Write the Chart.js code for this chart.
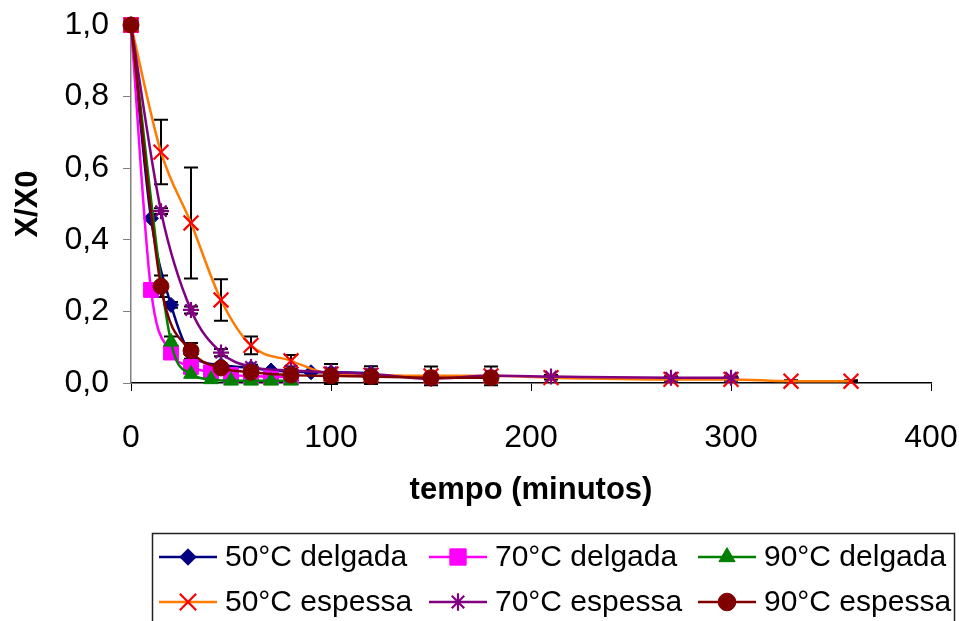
<!DOCTYPE html>
<html>
<head>
<meta charset="utf-8">
<script src="https://cdn.jsdelivr.net/npm/chart.js@4/dist/chart.umd.min.js"></script>
<style>
html,body{margin:0;padding:0;background:#fff;}
#wrap{width:959px;height:621px;position:relative;}
</style>
</head>
<body>
<div id="wrap"><canvas id="c" width="959" height="621"></canvas></div>
<script>
// ---- data ----
const xTickLabels = ['0','100','200','300','400'];
const yTickLabels = ['0,0','0,2','0,4','0,6','0,8','1,0'];

const labels = ['50°C delgada','70°C delgada','90°C delgada','50°C espessa','70°C espessa','90°C espessa'];

const t50d = [0,10,20,30,45,60,70,90,100,120];
const v50d = [1,0.46,0.218,0.08,0.05,0.042,0.035,0.03,0.03,0.028];
const e50d = [0,0,0.008,0,0,0,0,0,0,0];

const t70d = [0,10,20,30,40,50,60,70,80];
const v70d = [1,0.26,0.085,0.045,0.03,0.022,0.02,0.017,0.017];
const e70d = [0,0,0,0,0,0,0,0,0];

const t90d = [0,20,30,40,50,60,70,80];
const v90d = [1,0.115,0.025,0.01,0.006,0.006,0.006,0.006];
const e90d = [0,0.015,0,0,0,0,0,0];

const t50e = [0,15,30,45,60,80,100,120,150,180,210,270,300,330,360];
const v50e = [1,0.645,0.447,0.232,0.105,0.062,0.025,0.022,0.02,0.02,0.015,0.01,0.01,0.005,0.005];
const e50e = [0,0.09,0.155,0.058,0.025,0.016,0.028,0.025,0.026,0.026,0.005,0.004,0.004,0.003,0.003];

const t70e = [0,15,30,45,60,80,100,120,150,180,210,270,300];
const v70e = [1,0.48,0.204,0.085,0.045,0.035,0.03,0.025,0.012,0.02,0.018,0.015,0.015];
const e70e = [0,0.008,0.01,0.01,0.006,0.004,0,0,0,0,0.004,0.004,0.004];

const t90e = [0,15,30,45,60,80,100,120,150,180];
const v90e = [1,0.27,0.09,0.042,0.03,0.022,0.02,0.018,0.015,0.015];
const e90e = [0,0.03,0.022,0.01,0.005,0,0,0,0,0];

function pts(t, v){ return t.map((x,i)=>({x:x, y:v[i]})); }

const FONT = '"Liberation Sans", Arial, sans-serif';

const datasets = [
  {label:labels[0], data:pts(t50d,v50d), err:e50d, borderColor:'#000080', pointBackgroundColor:'#000080', pointBorderColor:'#000080', pointStyle:'rectRot', pointRadius:7.5, pointBorderWidth:1, order:6},
  {label:labels[1], data:pts(t70d,v70d), err:e70d, borderColor:'#FF00FF', pointBackgroundColor:'#FF00FF', pointBorderColor:'#FF00FF', pointStyle:'rect', pointRadius:10.5, pointBorderWidth:1, order:5},
  {label:labels[2], data:pts(t90d,v90d), err:e90d, borderColor:'#008000', pointBackgroundColor:'#008000', pointBorderColor:'#008000', pointStyle:'triangle', pointRadius:8.5, pointBorderWidth:1, order:4},
  {label:labels[3], data:pts(t50e,v50e), err:e50e, borderColor:'#FF7A00', pointBackgroundColor:'#FF0000', pointBorderColor:'#FF0000', pointStyle:'crossRot', pointRadius:10.5, pointBorderWidth:2.2, order:3},
  {label:labels[4], data:pts(t70e,v70e), err:e70e, borderColor:'#800080', pointBackgroundColor:'#800080', pointBorderColor:'#800080', pointStyle:'star', pointRadius:8, pointBorderWidth:2.2, order:2},
  {label:labels[5], data:pts(t90e,v90e), err:e90e, borderColor:'#800000', pointBackgroundColor:'#800000', pointBorderColor:'#800000', pointStyle:'circle', pointRadius:8, pointBorderWidth:1, order:1}
];
datasets.forEach(d=>{ d.borderWidth=2.5; d.cubicInterpolationMode='monotone'; d.fill=false; d.clip=false; d.showLine=true; });

const errorBars = {
  id:'errorBars',
  beforeDatasetsDraw(chart){
    const ctx = chart.ctx, xs = chart.scales.x, ys = chart.scales.y;
    ctx.save();
    ctx.strokeStyle = '#000'; ctx.lineWidth = 2;
    chart.data.datasets.forEach(ds=>{
      ds.data.forEach((p,i)=>{
        const e = ds.err[i];
        if(!e) return;
        const x = xs.getPixelForValue(p.x);
        const y1 = ys.getPixelForValue(p.y + e), y2 = ys.getPixelForValue(p.y - e);
        ctx.beginPath();
        ctx.moveTo(x, y1); ctx.lineTo(x, y2);
        ctx.moveTo(x-7, y1); ctx.lineTo(x+7, y1);
        ctx.moveTo(x-7, y2); ctx.lineTo(x+7, y2);
        ctx.stroke();
      });
    });
    ctx.restore();
  }
};

const boxLegend = {
  id:'boxLegend',
  afterDraw(chart){
    const ctx = chart.ctx;
    ctx.save();
    ctx.strokeStyle = '#222'; ctx.lineWidth = 1.5;
    ctx.strokeRect(152.5, 533.5, 802, 100);
    const colX = [159, 429, 698];
    const rowY = [557, 602];
    chart.data.datasets.forEach((ds,i)=>{
      const x0 = colX[i%3], y = rowY[Math.floor(i/3)];
      ctx.strokeStyle = ds.borderColor; ctx.lineWidth = 2.5;
      ctx.beginPath(); ctx.moveTo(x0, y); ctx.lineTo(x0+58, y); ctx.stroke();
      ctx.fillStyle = ds.pointBackgroundColor; ctx.strokeStyle = ds.pointBorderColor; ctx.lineWidth = ds.pointBorderWidth;
      Chart.helpers.drawPoint(ctx, {pointStyle:ds.pointStyle, radius:ds.pointRadius*1.1, rotation:0, borderWidth:ds.pointBorderWidth}, x0+29, y);
      ctx.fillStyle = '#000';
      ctx.font = '30px ' + FONT;
      ctx.textBaseline = 'middle'; ctx.textAlign = 'left';
      ctx.fillText(ds.label, x0+66, y+1);
    });
    ctx.restore();
  }
};

new Chart(document.getElementById('c'), {
  type:'line',
  data:{datasets:datasets},
  plugins:[errorBars, boxLegend],
  options:{
    responsive:false,
    animation:false,
    events:[],
    layout:{padding:{left:0, right:28, top:25, bottom:108}},
    plugins:{legend:{display:false}, tooltip:{enabled:false}},
    scales:{
      x:{
        type:'linear', min:0, max:400,
        afterBuildTicks(s){ s.ticks = xTickLabels.map(l=>({value:Number(l)})); },
        afterFit(s){ s.height = 130; s.paddingLeft = 0; s.paddingRight = 0; },
        ticks:{callback:(v,i)=>xTickLabels[i], font:{size:32, family:FONT}, color:'#000', padding:28, maxRotation:0, autoSkip:false},
        grid:{drawOnChartArea:false, drawTicks:true, tickLength:8, color:'#000', lineWidth:1},
        border:{color:'#000', width:1.5},
        title:{display:true, text:'tempo (minutos)', font:{size:31, weight:'bold', family:FONT}, color:'#000', padding:{top:0, bottom:4}}
      },
      y:{
        type:'linear', min:0, max:1,
        afterBuildTicks(s){ s.ticks = yTickLabels.map((l,i)=>({value:i*0.2})); },
        afterFit(s){ s.width = 131; s.paddingTop = 0; s.paddingBottom = 0; },
        ticks:{callback:(v,i)=>yTickLabels[i], font:{size:32, family:FONT}, color:'#000', padding:14, autoSkip:false},
        grid:{drawOnChartArea:false, drawTicks:true, tickLength:8, color:'#808080', lineWidth:1},
        border:{color:'#808080', width:1.5},
        title:{display:true, text:'X/X0', font:{size:31, weight:'bold', family:FONT}, color:'#000', padding:{top:10, bottom:0}}
      }
    }
  }
});
</script>
</body>
</html>
